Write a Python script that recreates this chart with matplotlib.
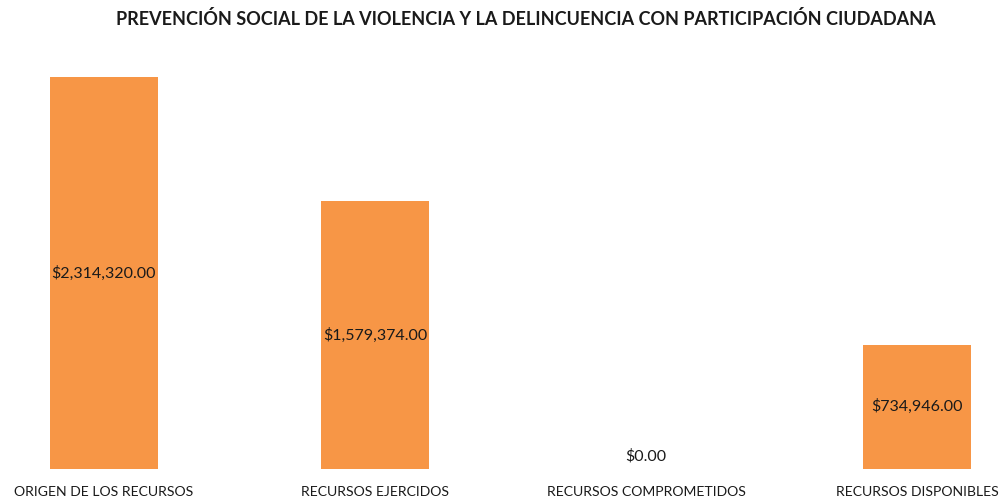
import numpy as np
import matplotlib
matplotlib.use('Agg')
import matplotlib.pyplot as plt

plt.rcParams['font.family'] = ['Lato', 'DejaVu Sans']

categorias = ['ORIGEN DE LOS RECURSOS', 'RECURSOS EJERCIDOS',
              'RECURSOS COMPROMETIDOS', 'RECURSOS DISPONIBLES']
montos = [2314320.00, 1579374.00, 0.00, 734946.00]
titulo = 'PREVENCIÓN SOCIAL DE LA VIOLENCIA Y LA DELINCUENCIA CON PARTICIPACIÓN CIUDADANA'

fig = plt.figure(figsize=(10.02, 5.01), dpi=100)
ax = fig.add_axes([0, 32 / 501, 1, 392 / 501])

x = np.arange(len(categorias))
barras = ax.bar(x, montos, width=0.4, color='#F79646')

ax.set_xlim(-104 / 271, (1002 - 104) / 271)
ax.set_ylim(0, max(montos))
ax.axis('off')

for xi, v in zip(x, montos):
    txt = '${:,.2f}'.format(v)
    if v > 0:
        ax.text(xi, v / 2, txt, ha='center', va='center', fontsize=11.5, color='#1a1a1a')
    else:
        ax.annotate(txt, (xi, 0), xytext=(0, 9.5), textcoords='offset points',
                    ha='center', va='center', fontsize=11.5, color='#1a1a1a')
    ax.annotate(categorias[xi], (xi, 0), xytext=(0, -16.5), textcoords='offset points',
                ha='center', va='center', fontsize=10.1, color='#1a1a1a',
                annotation_clip=False)

fig.text(0.525, 1 - 19 / 501, titulo, ha='center', va='center',
         fontsize=13, fontweight='bold', color='#1a1a1a')

fig.savefig('out.png', dpi=100)
